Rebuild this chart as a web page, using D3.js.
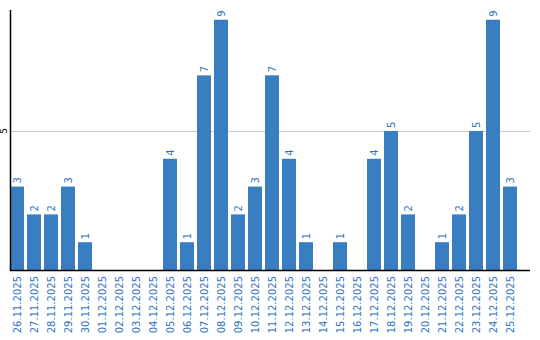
<!DOCTYPE html>
<html>
<head>
<meta charset="utf-8">
<script src="https://cdn.jsdelivr.net/npm/d3@7"></script>
<style>
    body { margin: 0; background: #fff; }
    svg { display: block; font-family: "DejaVu Sans", Verdana, sans-serif; }
</style>
</head>
<body>
<svg id="chart" width="540" height="340"></svg>
<script>
    // data
    var dates = [
        '26.11.2025', '27.11.2025', '28.11.2025', '29.11.2025', '30.11.2025',
        '01.12.2025', '02.12.2025', '03.12.2025', '04.12.2025', '05.12.2025',
        '06.12.2025', '07.12.2025', '08.12.2025', '09.12.2025', '10.12.2025',
        '11.12.2025', '12.12.2025', '13.12.2025', '14.12.2025', '15.12.2025',
        '16.12.2025', '17.12.2025', '18.12.2025', '19.12.2025', '20.12.2025',
        '21.12.2025', '22.12.2025', '23.12.2025', '24.12.2025', '25.12.2025'
    ];
    var counts = [3, 2, 2, 3, 1, 0, 0, 0, 0, 4, 1, 7, 9, 2, 3, 7, 4, 1, 0, 1, 0, 4, 5, 2, 0, 1, 2, 5, 9, 3];
    var yTicks = [5];

    var svg = d3.select('#chart');
    var plotLeft = 10, plotRight = 530, plotTop = 10, plotBottom = 270;
    var barColor = '#3a7ec2';
    var textColor = '#2f74bf';

    var x = d3.scaleBand()
        .domain(dates)
        .range([plotLeft, plotLeft + dates.length * 17 - 3])
        .paddingInner(3 / 17)
        .paddingOuter(0);

    var y = d3.scaleLinear()
        .domain([0, 9.35])
        .range([plotBottom, plotTop]);

    // gridline
    svg.append('g')
        .selectAll('line')
        .data(yTicks)
        .enter()
        .append('line')
        .attr('x1', plotLeft).attr('x2', plotRight)
        .attr('y1', function (d) { return Math.round(y(d)) + 0.5; })
        .attr('y2', function (d) { return Math.round(y(d)) + 0.5; })
        .attr('stroke', '#c8c8c8')
        .attr('stroke-width', 1);

    // y tick labels
    svg.append('g')
        .selectAll('text')
        .data(yTicks)
        .enter()
        .append('text')
        .attr('transform', function (d) { return 'translate(7,' + y(d) + ') rotate(-90)'; })
        .attr('text-anchor', 'middle')
        .attr('font-size', '9px')
        .attr('fill', '#000')
        .text(function (d) { return d; });

    // bars
    svg.append('g')
        .selectAll('rect')
        .data(counts)
        .enter()
        .append('rect')
        .attr('x', function (d, i) { return x(dates[i]); })
        .attr('y', function (d) { return y(d); })
        .attr('width', x.bandwidth())
        .attr('height', function (d) { return plotBottom - y(d); })
        .attr('fill', barColor);

    // value labels (only for non-zero bars)
    var labels = svg.append('g');
    counts.forEach(function (d, i) {
        if (d <= 0) return;
        labels.append('text')
            .attr('transform', 'translate(' + (x(dates[i]) + x.bandwidth() / 2 + 4) + ',' + (y(d) - 3) + ') rotate(-90)')
            .attr('font-size', '10px')
            .attr('fill', textColor)
            .text(d);
    });

    // axis lines
    svg.append('line')
        .attr('x1', plotLeft + 0.5).attr('x2', plotLeft + 0.5)
        .attr('y1', plotTop).attr('y2', plotBottom + 1)
        .attr('stroke', '#000').attr('stroke-width', 1.5);
    svg.append('line')
        .attr('x1', plotLeft).attr('x2', plotRight)
        .attr('y1', plotBottom + 0.5).attr('y2', plotBottom + 0.5)
        .attr('stroke', '#000').attr('stroke-width', 1.5);

    // x tick labels
    svg.append('g')
        .selectAll('text')
        .data(dates)
        .enter()
        .append('text')
        .attr('transform', function (d) {
            return 'translate(' + (x(d) + x.bandwidth() / 2 + 4) + ',' + (plotBottom + 6) + ') rotate(-90)';
        })
        .attr('text-anchor', 'end')
        .attr('font-size', '10px')
        .attr('fill', textColor)
        .text(function (d) { return d; });
</script>
</body>
</html>
